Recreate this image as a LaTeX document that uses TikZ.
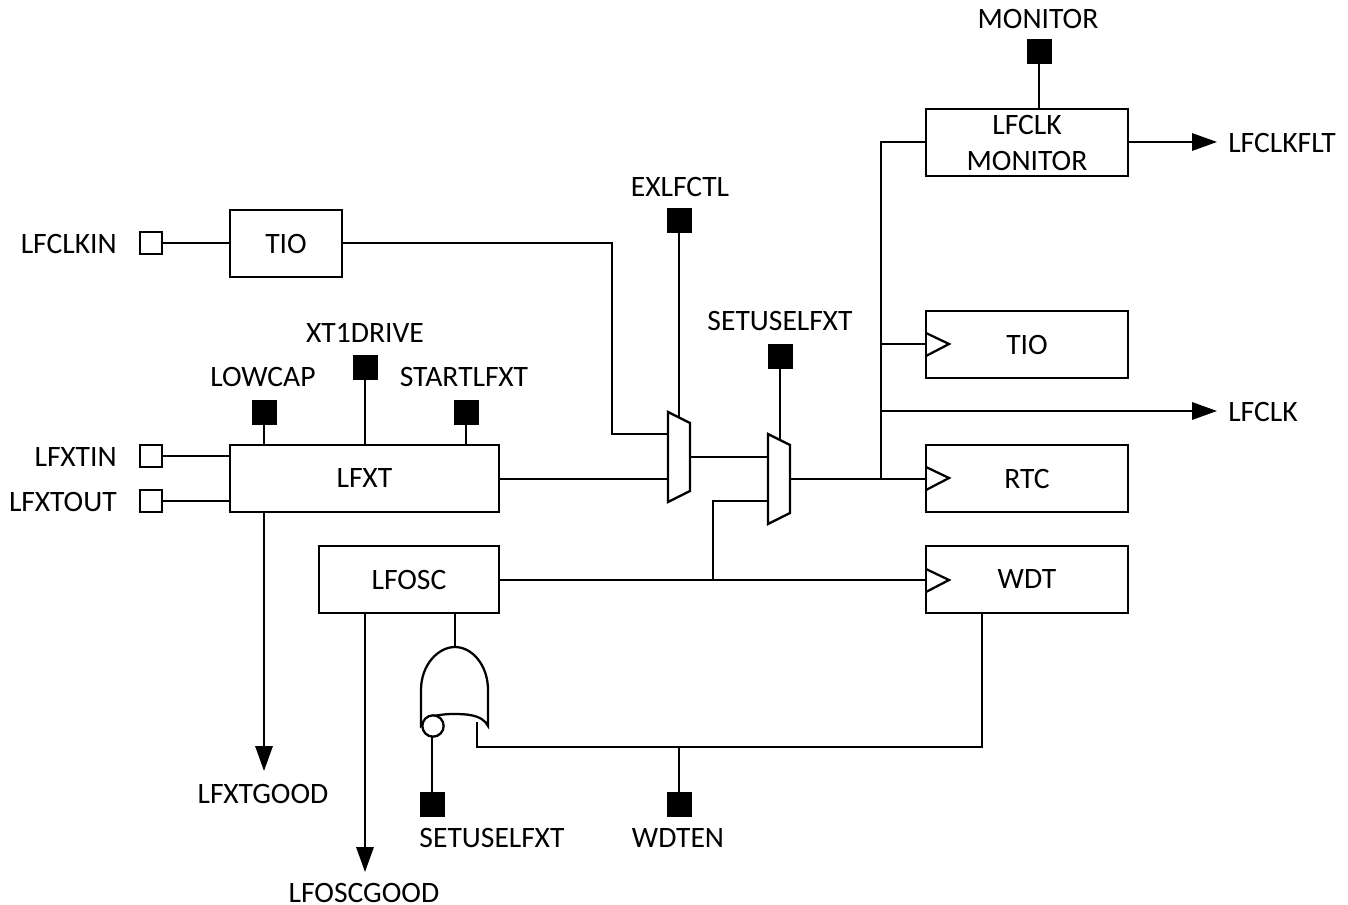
\documentclass[tikz,border=0pt]{standalone}
\usepackage{fontspec}
\setmainfont{Carlito}
\usetikzlibrary{arrows.meta,calc}
\tikzset{
  x=0.75pt,y=-0.75pt,
  wire/.style={line width=1.7pt,line join=miter},
  arr/.style={wire,-{Triangle[length=18.75pt,width=13pt]}},
  blockbox/.style={draw,line width=1.7pt,fill=white,anchor=north west,inner sep=0pt,outer sep=0pt,align=center,font=\fontsize{22.2}{27}\selectfont},
  lbl/.style={font=\fontsize{22.2}{27}\selectfont,inner sep=0pt},
  padf/.style={draw,fill=black,line width=0pt,minimum size=18pt,inner sep=0pt,outer sep=0pt},
  pado/.style={draw,fill=white,line width=1.7pt,minimum size=16pt,inner sep=0pt,outer sep=0pt},
  clk/.style={line width=1.7pt,line join=miter},
  shp/.style={line width=1.7pt,line join=miter,fill=white}
}
\newcommand{\blk}[6]{\node[blockbox,minimum width=#4*0.75pt,minimum height=#5*0.75pt] (#1) at (#2,#3) {#6};}
\begin{document}
\begin{tikzpicture}
\useasboundingbox (0,0) rectangle (1348,905);
% blocks
\blk{mon}{926}{109}{202}{67}{LFCLK\\MONITOR}
\blk{tior}{926}{311}{202}{67}{TIO}
\blk{rtc}{926}{445}{202}{67}{RTC}
\blk{wdt}{926}{546}{202}{67}{WDT}
\blk{tiol}{230}{210}{112}{67}{TIO}
\blk{lfxt}{230}{445}{269}{67}{LFXT}
\blk{lfosc}{319}{546}{180}{67}{LFOSC}
% pads
\node[pado] (pclkin) at (151,243) {};
\node[pado] (pxtin) at (151,456) {};
\node[pado] (pxtout) at (151,501) {};
\node[padf] (fmon) at (1039,52) {};
\node[padf] (fexl) at (679,221) {};
\node[padf] (fset) at (780,356) {};
\node[padf] (fdrv) at (365,367) {};
\node[padf] (flow) at (264,412) {};
\node[padf] (fstart) at (466,412) {};
\node[padf] (fsetb) at (432,804) {};
\node[padf] (fwdt) at (679,804) {};
% labels
\node[lbl] (tmon) at (1038,19) {MONITOR};
\node[lbl] (texl) at (680,187) {EXLFCTL};
\node[lbl] (tset) at (780,321) {SETUSELFXT};
\node[lbl] (tdrv) at (365,333) {XT1DRIVE};
\node[lbl] (tlow) at (263,377) {LOWCAP};
\node[lbl] (tstart) at (464,377) {STARTLFXT};
\node[lbl,anchor=east] (tclkin) at (117,244) {LFCLKIN};
\node[lbl,anchor=east] (txtin) at (117,457) {LFXTIN};
\node[lbl,anchor=east] (txtout) at (117,502) {LFXTOUT};
\node[lbl,anchor=west] (tflt) at (1228,143) {LFCLKFLT};
\node[lbl,anchor=west] (tclk) at (1228,412) {LFCLK};
\node[lbl] (tgood) at (263,794) {LFXTGOOD};
\node[lbl] (tosc) at (364,893) {LFOSCGOOD};
\node[lbl] (tsetb) at (492,838) {SETUSELFXT};
\node[lbl] (twdt) at (678,838) {WDTEN};
% named coordinates
\coordinate (m1a) at (668,434);
\coordinate (m1b) at (668,479);
\coordinate (m1o) at (690,457);
\coordinate (m1t) at (679,417);
\coordinate (m2a) at (768,457);
\coordinate (m2b) at (768,501);
\coordinate (m2o) at (790,479);
\coordinate (m2t) at (780,439);
\coordinate (bus) at (881,479);
\coordinate (busTop) at (881,142);
\coordinate (tipFlt) at (1217,142);
\coordinate (tipClk) at (1217,411);
\coordinate (tipGood) at (264,771);
\coordinate (tipOsc) at (365,872);
\coordinate (jct) at (713,580);
\coordinate (gTop) at (455,647);
\coordinate (gOut) at (477,722);
\coordinate (gBub) at (432,737);
\coordinate (wj) at (679,747);
% wires
\draw[wire] (pclkin.east) -- (pclkin.east -| tiol.west);
\draw[wire] (pxtin.east) -- (pxtin.east -| lfxt.west);
\draw[wire] (pxtout.east) -- (pxtout.east -| lfxt.west);
\draw[wire] (tiol.east |- pclkin) -- (612,243) |- (m1a);
\draw[wire] (lfxt.east |- m1b) -- (m1b);
\draw[wire] (m1o) -- (m2a);
\draw[wire] (fexl.south) -- (m1t);
\draw[wire] (fset.south) -- (m2t);
\draw[wire] (fmon.south) -- (fmon.south |- mon.north);
\draw[wire] (flow.south) -- (flow.south |- lfxt.north);
\draw[wire] (fdrv.south) -- (fdrv.south |- lfxt.north);
\draw[wire] (fstart.south) -- (fstart.south |- lfxt.north);
\draw[wire] (m2o) -- (rtc.west |- m2o);
\draw[wire] (bus) -- (busTop) -- (mon.west |- busTop);
\draw[wire] (881,344) -- (926,344);
\draw[arr] (881,411) -- (tipClk);
\draw[arr] (mon.east |- tipFlt) -- (tipFlt);
\draw[wire] (lfosc.east |- jct) -- (wdt.west |- jct);
\draw[wire] (jct) |- (m2b);
\draw[arr] (tipGood |- lfxt.south) -- (tipGood);
\draw[arr] (tipOsc |- lfosc.south) -- (tipOsc);
\draw[wire] (gTop |- lfosc.south) -- (gTop);
\draw[wire] (gOut) |- (wj) -- (982,747) -- (982,613);
\draw[wire] (wj) -- (fwdt.north);
\draw[wire] (gBub) -- (fsetb.north);
% muxes
\draw[shp] (668,412) -- (690,423) -- (690,491) -- (668,502) -- cycle;
\draw[shp] (768,434) -- (790,445) -- (790,513) -- (768,524) -- cycle;
% clock triangles
\draw[clk] (926,333) -- (949,344) -- (926,356);
\draw[clk] (926,467) -- (949,478) -- (926,490);
\draw[clk] (926,569) -- (949,580) -- (926,592);
% gate
\draw[shp] (421,726) -- (421,690) .. controls (421,665) and (438,647) .. (gTop)
  .. controls (472,647) and (488,665) .. (488,690) -- (488,726)
  .. controls (482,714) and (465,714) .. (452,714)
  .. controls (445,714) and (440,715) .. (433,716) -- cycle;
\node[draw,circle,fill=white,line width=1.7pt,minimum size=16pt,inner sep=0pt] (bub) at (433,726) {};
\end{tikzpicture}
\end{document}
